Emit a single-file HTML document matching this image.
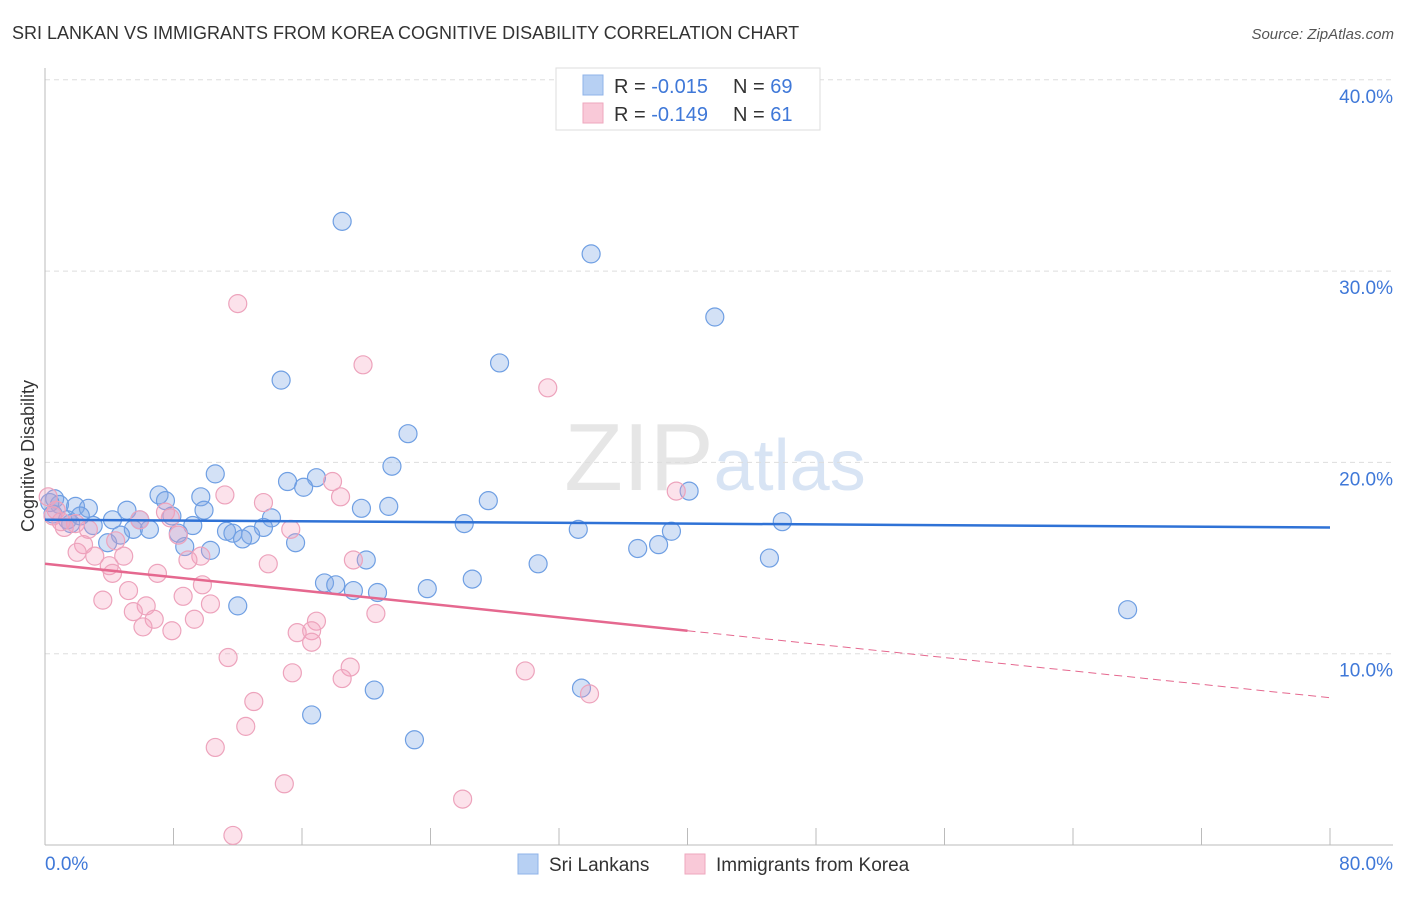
<!DOCTYPE html>
<html><head><meta charset="utf-8"><style>
body{margin:0;background:#fff;font-family:"Liberation Sans",sans-serif;}
svg text{font-family:"Liberation Sans",sans-serif;}
</style></head><body>
<svg id="chart" width="1406" height="892" xmlns="http://www.w3.org/2000/svg">
<text x="12" y="39" font-size="18" fill="#333">SRI LANKAN VS IMMIGRANTS FROM KOREA COGNITIVE DISABILITY CORRELATION CHART</text>
<text x="1394" y="39" font-size="15" fill="#555" text-anchor="end" font-style="italic">Source: ZipAtlas.com</text>
<text x="715" y="490" font-size="96" text-anchor="middle" fill="#e6e6e6" font-family="Liberation Serif">ZIP<tspan fill="#d8e4f4" font-family="Liberation Sans" font-size="72">atlas</tspan></text>
<g id="grid"></g><g id="pts"></g><g id="lines"></g>
<text transform="translate(34,456) rotate(-90)" font-size="18" fill="#333" text-anchor="middle">Cognitive Disability</text>
<g>
<rect x="556" y="68" width="264" height="62" fill="#fff" stroke="#ddd"/>
<rect x="583" y="75" width="20" height="20" fill="#b7d0f3" stroke="#8fb3e8"/>
<rect x="583" y="103" width="20" height="20" fill="#f9c9d8" stroke="#eea7be"/>
<text x="614" y="93" font-size="20" fill="#333">R = <tspan fill="#3f78d8">-0.015</tspan><tspan x="733">N = </tspan><tspan fill="#3f78d8">69</tspan></text>
<text x="614" y="121" font-size="20" fill="#333">R = <tspan fill="#3f78d8"> -0.149</tspan><tspan x="733">N = </tspan><tspan fill="#3f78d8"> 61</tspan></text>
</g>
<g>
<rect x="518" y="854" width="20" height="20" fill="#b7d0f3" stroke="#8fb3e8"/>
<text x="549" y="871" font-size="19" fill="#333">Sri Lankans</text>
<rect x="685" y="854" width="20" height="20" fill="#f9c9d8" stroke="#eea7be"/>
<text x="716" y="871" font-size="19" fill="#333">Immigrants from Korea</text>
</g>
</svg>
<script>
const yTicks=[10,20,30,40];
const yTickLabels=["10.0%","20.0%","30.0%","40.0%"];
const xTickLabels=["0.0%","80.0%"];
const blueX=[18.5,34.0,41.7,28.3,14.7,22.6,21.6,10.6,15.1,16.9,16.1,7.1,7.5,9.7,27.6,40.1,21.4,19.7,9.9,1.9,2.7,5.1,0.6,0.9,7.9,14.1,5.9,4.2,1.4,26.1,45.9,3.0,9.2,13.6,5.5,6.5,33.2,39.0,11.3,11.7,8.3,4.7,12.8,12.3,15.6,3.9,8.7,10.3,38.2,36.9,20.0,30.7,45.1,26.6,17.4,18.1,23.8,19.2,20.7,12.0,67.4,20.5,33.4,16.6,23.0,0.3,1.6,0.5,2.2];
const blueY=[32.6,30.9,27.6,25.2,24.3,21.5,19.8,19.4,19.0,19.2,18.7,18.3,18.0,18.2,18.0,18.5,17.7,17.6,17.5,17.7,17.6,17.5,18.1,17.8,17.2,17.1,17.0,17.0,17.0,16.8,16.9,16.7,16.7,16.6,16.5,16.5,16.5,16.4,16.4,16.3,16.3,16.2,16.2,16.0,15.8,15.8,15.6,15.4,15.7,15.5,14.9,14.7,15.0,13.9,13.7,13.6,13.4,13.3,13.2,12.5,12.3,8.1,8.2,6.8,5.5,17.9,16.8,17.3,17.2];
const pinkX=[12.0,19.8,31.3,17.9,39.3,11.2,18.4,13.6,7.5,7.8,5.9,0.2,0.7,1.2,1.9,2.7,15.3,8.3,4.4,2.4,2.0,3.1,4.9,9.7,8.9,13.9,19.2,4.0,4.2,7.0,9.8,5.2,3.6,8.6,6.3,10.3,5.5,20.6,6.8,9.3,16.9,6.1,7.9,15.7,16.6,16.6,11.4,19.0,15.4,29.9,18.5,33.9,13.0,12.5,10.6,14.9,26.0,11.7,0.5,1.0];
const pinkY=[28.3,25.1,23.9,19.0,18.5,18.3,18.2,17.9,17.4,17.1,17.0,18.2,17.5,16.6,16.8,16.5,16.5,16.2,15.9,15.7,15.3,15.1,15.1,15.1,14.9,14.7,14.9,14.6,14.2,14.2,13.6,13.3,12.8,13.0,12.5,12.6,12.2,12.1,11.8,11.8,11.7,11.4,11.2,11.1,11.2,10.6,9.8,9.3,9.0,9.1,8.7,7.9,7.5,6.2,5.1,3.2,2.4,0.5,17.2,16.9];
const blueTrend=[17.0,16.6];
const pinkTrend=[14.7,11.2,7.7];
const X=v=>45+v/80*1285, Y=v=>845-v/10*191.3;
const NS="http://www.w3.org/2000/svg";
function mk(p,t,a){const e=document.createElementNS(NS,t);for(const k in a)e.setAttribute(k,a[k]);p.appendChild(e);return e;}
const g=document.getElementById('grid');
yTicks.forEach((t,i)=>{
 const l=mk(g,'line',{x1:45,x2:1393,y1:Y(t),y2:Y(t),stroke:'#ddd','stroke-dasharray':'5,4'});
 
 
 const tx=mk(g,'text',{x:1393,y:Y(t)+23,'font-size':19,fill:'#3f78d8','text-anchor':'end'});
 tx.textContent=yTickLabels[i];
 
 
});
const ax=mk(g,'line',{x1:45,x2:45,y1:68,y2:845,stroke:'#bbb'});


const bx=mk(g,'line',{x1:45,x2:1393,y1:845,y2:845,stroke:'#bbb'});


for(let i=0;i<=10;i++){
 const t=mk(g,'line',{x1:X(i*8),x2:X(i*8),y1:828,y2:845,stroke:'#bbb'});
 
 
}
[[0,'start',45],[80,'end',1393]].forEach((d,i)=>{
 const t=mk(g,'text',{x:d[2],y:870,'font-size':19,fill:'#3f78d8','text-anchor':d[1]});
 t.textContent=xTickLabels[i];
 
 
});
const pg=document.getElementById('pts');
blueX.forEach((x,i)=>{
 const c=mk(pg,'circle',{cx:X(x),cy:Y(blueY[i]),r:9,fill:'rgba(130,170,230,0.35)',stroke:'#6f9fe3','stroke-width':1.2});
 
 
});
pinkX.forEach((x,i)=>{
 const c=mk(pg,'circle',{cx:X(x),cy:Y(pinkY[i]),r:9,fill:'rgba(245,160,190,0.3)',stroke:'#eda3bc','stroke-width':1.2});
 
 
});
const lg=document.getElementById('lines');
const b=mk(lg,'line',{x1:X(0),x2:X(80),y1:Y(blueTrend[0]),y2:Y(blueTrend[1]),stroke:'#2f72d6','stroke-width':2.5});


const p=mk(lg,'line',{x1:X(0),x2:X(40),y1:Y(pinkTrend[0]),y2:Y(pinkTrend[1]),stroke:'#e5688f','stroke-width':2.5});


const pd=mk(lg,'line',{x1:X(40),x2:X(80),y1:Y(pinkTrend[1]),y2:Y(pinkTrend[2]),stroke:'#e5688f','stroke-width':1,'stroke-dasharray':'8,5'});


</script>
</body></html>
